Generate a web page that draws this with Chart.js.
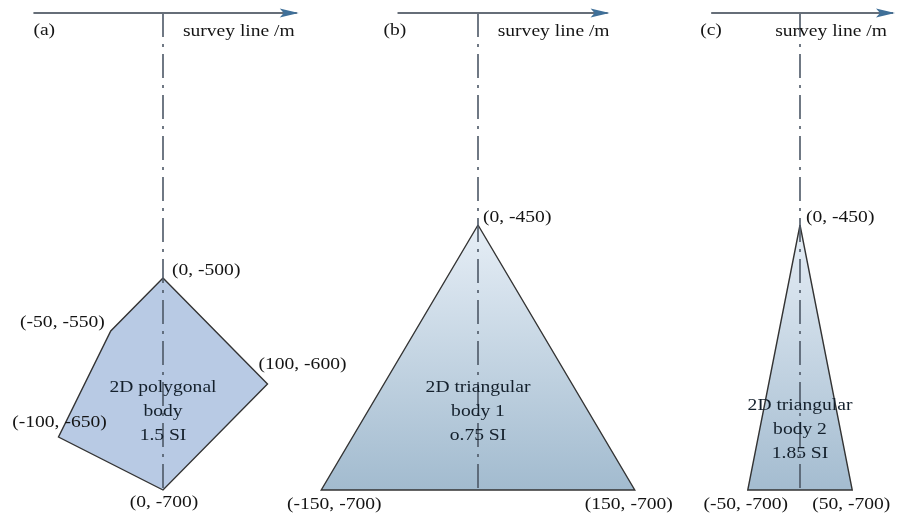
<!DOCTYPE html>
<html>
<head>
<meta charset="utf-8">
<script src="https://cdn.jsdelivr.net/npm/chart.js@4.4.1/dist/chart.umd.min.js"></script>
<style>
  html, body { margin: 0; padding: 0; background: #fff; }
  #stage { position: relative; width: 897px; height: 521px; overflow: hidden; }
  .panel { position: absolute; top: 0; height: 521px; }
</style>
</head>
<body>
<div id="stage">
  <div class="panel" id="wrapA" style="left:0px;width:372px"><canvas id="chartA"></canvas></div>
  <div class="panel" id="wrapB" style="left:270px;width:430px"><canvas id="chartB"></canvas></div>
  <div class="panel" id="wrapC" style="left:695px;width:202px"><canvas id="chartC"></canvas></div>
</div>
<script>
// data (metres)
const panelTags = ['(a)', '(b)', '(c)'];
const axisTitle = 'survey line /m';

const bodyAX = [0, 100, 0, -100, -50];
const bodyAY = [-500, -600, -700, -650, -550];
const bodyBX = [0, 150, -150];
const bodyBY = [-450, -700, -700];
const bodyCX = [0, 50, -50];
const bodyCY = [-450, -700, -700];

const bodyNames = [['2D polygonal', 'body'], ['2D triangular', 'body 1'], ['2D triangular', 'body 2']];
const susceptibility = ['1.5 SI', 'o.75 SI', '1.85 SI'];

// schematic surface level and extent of each survey line
const SURFACE_Y = -250;
const DEPTH_BOTTOM = -700;
const surveyA = [-124, 128];
const surveyB = [-77, 124];
const surveyC = [-85, 89];

// layout
const PX_X = 1.045, PX_Y = 1.06, BOTTOM_PX = 490, H = 521;
const FONT = '17px "Liberation Serif", "Times New Roman", serif';
const STRETCH = 1.15;

const panels = [
  { id: 'chartA', left: 0, width: 372, center: 163, xs: bodyAX, ys: bodyAY, survey: surveyA,
    fill: ['#b8cae4', '#b8cae4'], textY: -626,
    vlabels: [[9, -7, 'left'], [-9, -19, 'left'], [1, 13, 'center'], [1, -14, 'center'], [-6, -8, 'right']],
    tag: [0, 18, 'left'], title: [-2, 19] },
  { id: 'chartB', left: 270, width: 430, center: 478, xs: bodyBX, ys: bodyBY, survey: surveyB,
    fill: ['#e6eef6', '#a2bbcf'], textY: -626,
    vlabels: [[5, -7, 'left'], [-6, 15, 'center'], [13, 15, 'center']],
    tag: [-14, 18, 'left'], title: [2, 19] },
  { id: 'chartC', left: 695, width: 202, center: 800, xs: bodyCX, ys: bodyCY, survey: surveyC,
    fill: ['#e6eef6', '#a4bcd0'], textY: -643,
    vlabels: [[6, -7, 'left'], [-1, 15, 'center'], [-2, 15, 'center']],
    tag: [-11, 18, 'left'], title: [-6, 19] }
];

function drawText(ctx, text, x, y, align) {
  ctx.save();
  ctx.translate(x, y);
  ctx.scale(STRETCH, 1);
  ctx.textAlign = align;
  ctx.textBaseline = 'middle';
  ctx.fillText(text, 0, 0);
  ctx.restore();
}

const annotate = {
  id: 'annotate',
  afterDatasetsDraw(chart, args, opts) {
    const p = opts.panel, idx = opts.index;
    const ctx = chart.ctx, xs = chart.scales.x, ys = chart.scales.y;
    ctx.save();
    // arrow head
    const tipX = xs.getPixelForValue(p.survey[1]) + 2, tipY = ys.getPixelForValue(SURFACE_Y);
    ctx.fillStyle = '#3f6f98';
    ctx.beginPath();
    ctx.moveTo(tipX, tipY);
    ctx.lineTo(tipX - 19, tipY - 4.5);
    ctx.lineTo(tipX - 15, tipY);
    ctx.lineTo(tipX - 19, tipY + 4.5);
    ctx.closePath();
    ctx.fill();

    ctx.font = FONT;
    ctx.fillStyle = '#141414';
    const sx = xs.getPixelForValue(p.survey[0]), ex = xs.getPixelForValue(p.survey[1]);
    drawText(ctx, panelTags[idx], sx + p.tag[0], tipY + p.tag[1], p.tag[2]);
    drawText(ctx, axisTitle, ex + p.title[0], tipY + p.title[1], 'right');

    // vertex coordinates
    p.xs.forEach((vx, i) => {
      const [dx, dy, al] = p.vlabels[i];
      drawText(ctx, '(' + vx + ', ' + p.ys[i] + ')', xs.getPixelForValue(vx) + dx, ys.getPixelForValue(p.ys[i]) + dy, al);
    });

    // body description
    ctx.fillStyle = '#14202c';
    const cx = xs.getPixelForValue(0), cy = ys.getPixelForValue(p.textY);
    const lines = bodyNames[idx].concat([susceptibility[idx]]);
    lines.forEach((t, i) => drawText(ctx, t, cx, cy + (i - 1) * 24, 'center'));
    ctx.restore();
  }
};

panels.forEach((p, idx) => {
  const xMin = -(p.center - p.left) / PX_X;
  const xMax = (p.left + p.width - p.center) / PX_X;
  const yMax = DEPTH_BOTTOM + BOTTOM_PX / PX_Y;
  const yMin = DEPTH_BOTTOM - (H - BOTTOM_PX) / PX_Y;
  const yTop = Math.max(...p.ys), yBot = Math.min(...p.ys);

  new Chart(document.getElementById(p.id), {
    type: 'scatter',
    data: {
      datasets: [
        {
          data: p.survey.map(x => ({ x: x, y: SURFACE_Y })),
          showLine: true, borderColor: '#666e78', borderWidth: 2.2,
          pointRadius: 0, order: 0
        },
        {
          data: [{ x: 0, y: SURFACE_Y }, { x: 0, y: DEPTH_BOTTOM }],
          showLine: true, borderColor: '#4d5866', borderWidth: 1.6,
          borderDash: [24, 7, 3, 7], pointRadius: 0, order: 1
        },
        {
          data: p.xs.map((x, i) => ({ x: x, y: p.ys[i] })).concat([{ x: p.xs[0], y: p.ys[0] }]),
          showLine: true, borderColor: '#333333', borderWidth: 1.4,
          pointRadius: 0, fill: 'shape', order: 2,
          backgroundColor: (c) => {
            const chart = c.chart;
            if (!chart.chartArea) return p.fill[0];
            const g = chart.ctx.createLinearGradient(0, chart.scales.y.getPixelForValue(yTop), 0, chart.scales.y.getPixelForValue(yBot));
            g.addColorStop(0, p.fill[0]);
            g.addColorStop(1, p.fill[1]);
            return g;
          }
        }
      ]
    },
    options: {
      responsive: true,
      maintainAspectRatio: false,
      animation: false,
      events: [],
      layout: { padding: 0 },
      clip: false,
      scales: {
        x: { type: 'linear', min: xMin, max: xMax, display: false },
        y: { type: 'linear', min: yMin, max: yMax, display: false }
      },
      plugins: {
        legend: { display: false },
        tooltip: { enabled: false },
        annotate: { panel: p, index: idx }
      }
    },
    plugins: [annotate]
  });
});
</script>
</body>
</html>
